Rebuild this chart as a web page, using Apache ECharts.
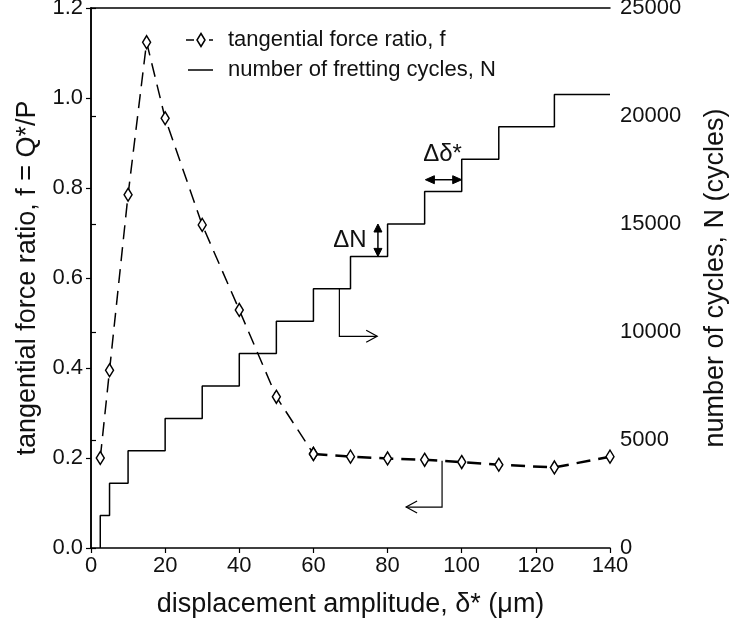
<!DOCTYPE html>
<html><head><meta charset="utf-8">
<script src="https://cdn.jsdelivr.net/npm/echarts/dist/echarts.min.js"></script>
<style>html,body{margin:0;padding:0;background:#fff}#c{width:732px;height:624px}</style>
</head><body><div id="c"></div>
<script>
// ---- data ----
const xTicks = [0, 20, 40, 60, 80, 100, 120, 140];
const fTicks = [0.0, 0.2, 0.4, 0.6, 0.8, 1.0, 1.2];
const nTicks = [0, 5000, 10000, 15000, 20000, 25000];
const fX   = [2.5, 5, 10, 15, 20, 30, 40, 50, 60, 70, 80, 90, 100, 110, 125, 140];
const fVal = [0.200, 0.395, 0.785, 1.124, 0.955, 0.718, 0.529, 0.336, 0.209, 0.203, 0.199, 0.196, 0.191, 0.185, 0.179, 0.203];
const stepX = [2.5, 2.5, 5, 10, 20, 30, 40, 50, 60, 70, 80, 90, 100, 110, 125, 140];
const stepN = [0, 1500, 3000, 4500, 6000, 7500, 9000, 10500, 12000, 13500, 15000, 16500, 18000, 19500, 21000, 21000];
const fName = 'tangential force ratio, f';
const nName = 'number of fretting cycles, N';

const FONT = 'Liberation Sans, Arial, sans-serif';
const TITLE = 27;
const chart = echarts.init(document.getElementById('c'), null, {renderer: 'canvas'});
const fPairs = fX.map((x, i) => [x, fVal[i]]);
const breakIdx = fX.indexOf(60);
const axisCommon = {
  axisLine: {show: true, lineStyle: {color: '#000', width: 1.5}},
  axisTick: {show: true, inside: false, length: 5, lineStyle: {color: '#000', width: 1.2}},
  axisLabel: {color: '#111', fontSize: 22, fontFamily: FONT},
  splitLine: {show: false},
  nameTextStyle: {color: '#111', fontSize: TITLE, fontFamily: FONT}
};
chart.setOption({
  animation: false,
  backgroundColor: '#fff',
  grid: {left: 91, right: 122, top: 8, bottom: 76, containLabel: false, outerBoundsMode: 'none'},
  xAxis: [
    Object.assign({}, axisCommon, {
      type: 'value', min: xTicks[0], max: xTicks[xTicks.length - 1], interval: xTicks[1] - xTicks[0],
      name: 'displacement amplitude, δ* (μm)', nameLocation: 'middle', nameGap: 43,
      axisLabel: Object.assign({}, axisCommon.axisLabel, {margin: 7})
    }),
    {type: 'value', position: 'top', min: xTicks[0], max: xTicks[xTicks.length - 1],
     axisLine: {show: true, onZero: false, lineStyle: {color: '#000', width: 1.5}},
     axisTick: {show: false}, axisLabel: {show: false}, splitLine: {show: false}}
  ],
  yAxis: [
    Object.assign({}, axisCommon, {
      type: 'value', min: fTicks[0], max: fTicks[fTicks.length - 1], interval: fTicks[1] - fTicks[0],
      position: 'left', name: 'tangential force ratio, f = Q*/P', nameLocation: 'middle', nameGap: 48, nameRotate: 90,
      axisLabel: Object.assign({}, axisCommon.axisLabel, {margin: 8, formatter: v => v.toFixed(1)})
    }),
    Object.assign({}, axisCommon, {
      type: 'value', min: nTicks[0], max: nTicks[nTicks.length - 1], interval: nTicks[1] - nTicks[0],
      position: 'right', name: 'number of cycles, N (cycles)', nameLocation: 'middle', nameGap: 92, nameRotate: 90,
      axisLabel: Object.assign({}, axisCommon.axisLabel, {margin: 10, formatter: v => String(v)})
    })
  ],
  series: [
    {
      name: nName, type: 'line', xAxisIndex: 0, yAxisIndex: 1, step: 'end',
      data: stepX.map((x, i) => [x, stepN[i]]),
      showSymbol: false, symbol: 'none',
      lineStyle: {color: '#000', width: 1.5}, itemStyle: {color: '#000'}
    },
    {
      name: fName, type: 'line', xAxisIndex: 0, yAxisIndex: 0,
      data: fPairs.slice(0, breakIdx + 1),
      symbol: 'diamond', symbolSize: [8, 13],
      lineStyle: {color: '#000', width: 1.5, type: [14, 8]},
      itemStyle: {color: '#fff', borderColor: '#000', borderWidth: 1.5}, z: 3
    },
    {
      name: fName, type: 'line', xAxisIndex: 0, yAxisIndex: 0,
      data: fPairs.slice(breakIdx),
      symbol: 'diamond', symbolSize: [8, 13],
      lineStyle: {color: '#000', width: 2.5, type: [14, 8]},
      itemStyle: {color: '#fff', borderColor: '#000', borderWidth: 1.5}, z: 3
    }
  ]
});

// ---- annotations & legend (positions via the chart's own scales where tied to data) ----
const pN = (x, n) => chart.convertToPixel({xAxisIndex: 0, yAxisIndex: 1}, [x, n]);
const pF = (x, f) => chart.convertToPixel({xAxisIndex: 0, yAxisIndex: 0}, [x, f]);
const g = [];
const line = (pts, w) => g.push({type: 'polyline', shape: {points: pts}, style: {stroke: '#000', lineWidth: w || 1.2, fill: null}, z: 10});
const tri = (pts) => g.push({type: 'polygon', shape: {points: pts}, style: {fill: '#000', stroke: '#000', lineWidth: 1}, z: 10});
const txt = (x, y, s, align, fs) => g.push({type: 'text', x: x, y: y, style: {text: s, fontSize: fs || 24, fontFamily: FONT, fill: '#111', align: align || 'center', verticalAlign: 'middle'}, z: 10});

// legend
line([[186, 40], [194, 40]], 1.5);
g.push({type: 'polygon', shape: {points: [[201, 33.5], [205, 40], [201, 46.5], [197, 40]]}, style: {fill: '#fff', stroke: '#000', lineWidth: 1.5}, z: 10});
line([[209, 40], [213, 40]], 1.5);
txt(228, 40, fName, 'left', 22);
line([[188, 70], [213, 70]], 1.5);
txt(228, 70, nName, 'left', 22);

// right-pointing arrow from the N curve
let a = pN(67, stepN[8]), b = pN(67, 9800), c = pN(77.2, 9800);
line([a, b, c]);
line([[c[0] - 11, c[1] - 6], c, [c[0] - 11, c[1] + 6]]);
// left-pointing arrow from the f curve
a = pF(94.7, 0.194); b = pF(94.7, 0.091); c = pF(85, 0.091);
line([a, b, c]);
line([[c[0] + 11, c[1] - 6], c, [c[0] + 11, c[1] + 6]]);
// ΔN double arrow
const xN = 77.4;
let t = pN(xN, stepN[10]), u = pN(xN, stepN[9]);
line([[t[0], t[1] + 6], [u[0], u[1] - 6]], 1.5);
tri([[t[0], t[1]], [t[0] - 4, t[1] + 8], [t[0] + 4, t[1] + 8]]);
tri([[u[0], u[1]], [u[0] - 4, u[1] - 8], [u[0] + 4, u[1] - 8]]);
txt(t[0] - 28, (t[1] + u[1]) / 2, 'ΔN');
// Δδ* double arrow
let l = pN(90.2, 17050), r = pN(100, 17050);
line([[l[0] + 6, l[1]], [r[0] - 6, r[1]]], 1.5);
tri([[l[0], l[1]], [l[0] + 9, l[1] - 4], [l[0] + 9, l[1] + 4]]);
tri([[r[0], r[1]], [r[0] - 9, r[1] - 4], [r[0] - 9, r[1] + 4]]);
txt((l[0] + r[0]) / 2 - 1, l[1] - 25, 'Δδ*');
chart.setOption({graphic: g});
</script></body></html>
